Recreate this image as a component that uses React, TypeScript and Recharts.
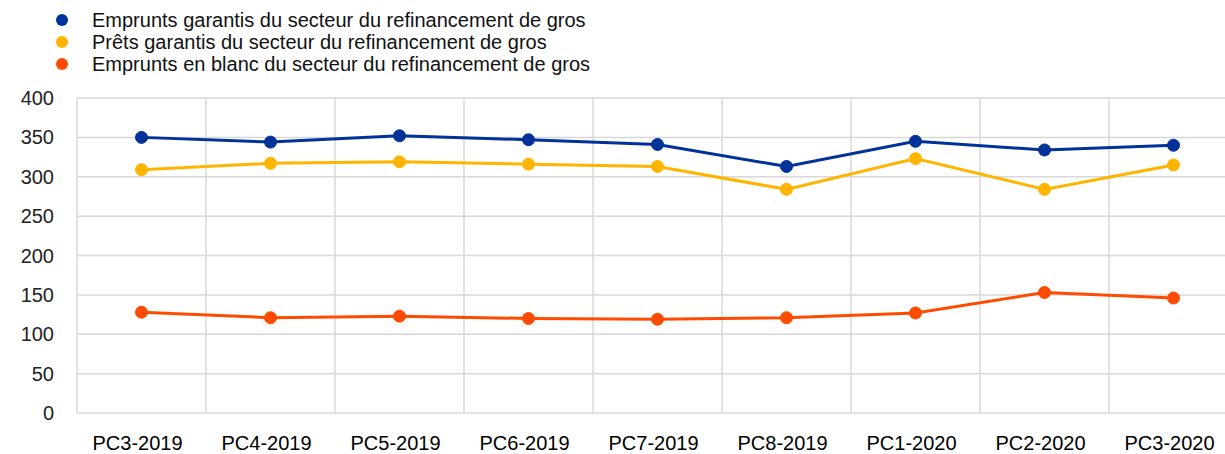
import React from "react";
import { LineChart, Line, XAxis, YAxis, CartesianGrid, Legend } from "recharts";

const categories = [
  "PC3-2019",
  "PC4-2019",
  "PC5-2019",
  "PC6-2019",
  "PC7-2019",
  "PC8-2019",
  "PC1-2020",
  "PC2-2020",
  "PC3-2020",
];
const securedBorrowing = [350, 344, 352, 347, 341, 313, 345, 334, 340];
const securedLending = [309, 317, 319, 316, 313, 284, 323, 284, 315];
const unsecuredBorrowing = [128, 121, 123, 120, 119, 121, 127, 153, 146];
const yTicks = [0, 50, 100, 150, 200, 250, 300, 350, 400];

const series = [
  { key: "securedBorrowing", name: "Emprunts garantis du secteur du refinancement de gros", color: "#003299" },
  { key: "securedLending", name: "Prêts garantis du secteur du refinancement de gros", color: "#FFB400" },
  { key: "unsecuredBorrowing", name: "Emprunts en blanc du secteur du refinancement de gros", color: "#FF4B00" },
];

const data = categories.map((c, i) => ({
  cat: c,
  securedBorrowing: securedBorrowing[i],
  securedLending: securedLending[i],
  unsecuredBorrowing: unsecuredBorrowing[i],
}));

const font = "'Liberation Sans', Arial, sans-serif";
const gridColor = "#d8d8d8";

const LegendBox = () => (
  <div style={{ position: "absolute", top: 9, left: 0, fontFamily: font, fontSize: 20, lineHeight: "22px", color: "#111" }}>
    {series.map((s) => (
      <div key={s.key} style={{ display: "flex", alignItems: "center", height: 22, whiteSpace: "nowrap" }}>
        <span style={{ display: "inline-block", width: 12, height: 12, borderRadius: 6, background: s.color, marginLeft: 56, marginRight: 24 }} />
        <span>{s.name}</span>
      </div>
    ))}
  </div>
);

// vertical grid sits on the category band edges, not on the ticks
const bandLines = ({ offset }: any) => {
  const n = categories.length;
  return categories.concat([""]).map((_, i) => offset.left + (offset.width * i) / n);
};

export default function App() {
  return (
    <div style={{ position: "absolute", top: 0, left: 0, width: 1225, height: 454, overflow: "hidden", background: "#fff" }}>
      <LineChart width={1240} height={454} data={data} margin={{ top: 98, right: 2, left: 0, bottom: 0 }}>
        <CartesianGrid stroke={gridColor} strokeWidth={1.5} verticalCoordinatesGenerator={bandLines} />
        <XAxis
          dataKey="cat"
          scale="band"
          height={41}
          axisLine={false}
          tickLine={false}
          tickSize={0}
          tickMargin={23}
          interval={0}
          tick={{ fill: "#000", fontSize: 20, fontFamily: font, dx: -4 }}
        />
        <YAxis
          width={77}
          domain={[0, 400]}
          ticks={yTicks}
          axisLine={false}
          tickLine={false}
          tickSize={0}
          tickMargin={23}
          tick={{ fill: "#222", fontSize: 20, fontFamily: font }}
        />
        <Legend content={<LegendBox />} wrapperStyle={{ position: "absolute", top: 0, left: 0, width: 700 }} />
        {series.map((s) => (
          <Line
            key={s.key}
            dataKey={s.key}
            name={s.name}
            type="linear"
            stroke={s.color}
            strokeWidth={3}
            dot={{ r: 6, fill: s.color, stroke: s.color, strokeWidth: 1 }}
            activeDot={false}
            isAnimationActive={false}
          />
        ))}
      </LineChart>
    </div>
  );
}
